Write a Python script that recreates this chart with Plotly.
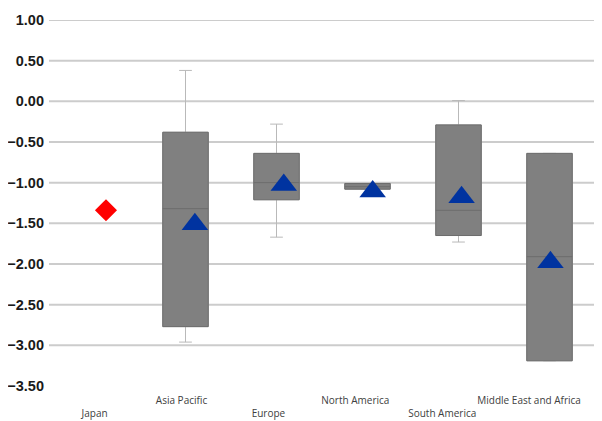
import plotly.graph_objects as go

# ---- data ----
categories = ["Japan", "Asia Pacific", "Europe", "North America", "South America", "Middle East and Africa"]
box_categories = ["Asia Pacific", "Europe", "North America", "South America", "Middle East and Africa"]
q1 = [-2.77, -1.21, -1.08, -1.65, -3.19]
median = [-1.32, -1.00, -1.05, -1.34, -1.91]
q3 = [-0.38, -0.64, -1.01, -0.29, -0.64]
lower_whisker = [-2.96, -1.67, -1.08, -1.73, -3.19]
upper_whisker = [0.38, -0.28, -1.01, 0.01, -0.64]
mean_categories = ["Asia Pacific", "Europe", "North America", "South America", "Middle East and Africa"]
mean_values = [-1.51, -1.03, -1.11, -1.18, -1.98]
japan_value = [-1.34]
y_tick_values = [1.0, 0.5, 0.0, -0.5, -1.0, -1.5, -2.0, -2.5, -3.0, -3.5]
grid_values = [1.0, 0.5, 0.0, -0.5, -1.0, -1.5, -2.0, -2.5, -3.0]

fig = go.Figure()

# whiskers layer (light grey)
fig.add_trace(go.Box(
    x=box_categories, q1=q1, median=median, q3=q3,
    lowerfence=lower_whisker, upperfence=upper_whisker,
    width=0.5, whiskerwidth=0.28,
    fillcolor="rgba(0,0,0,0)", line=dict(color="#b9b9b9", width=1),
    boxpoints=False, showlegend=False, hoverinfo="skip",
))
# box layer (dark grey)
fig.add_trace(go.Box(
    x=box_categories, q1=q1, median=median, q3=q3,
    lowerfence=q1, upperfence=q3,
    width=0.5, whiskerwidth=0,
    fillcolor="#808080", line=dict(color="#6c6c6c", width=1),
    boxpoints=False, showlegend=False,
))
# Japan diamond
fig.add_trace(go.Scatter(
    x=["Japan"], y=japan_value, xaxis="x2", mode="markers",
    marker=dict(symbol="diamond", size=17, color="#ff0000"), showlegend=False,
))
# means
fig.add_trace(go.Scatter(
    x=mean_categories, y=mean_values, xaxis="x2", mode="markers",
    marker=dict(symbol="triangle-up", size=23, color="#0033a0"), showlegend=False,
))
# invisible trace carrying the category labels axis
fig.add_trace(go.Scatter(
    x=categories, y=[None] * len(categories), xaxis="x3", mode="markers",
    showlegend=False, hoverinfo="skip",
))

# staggered labels
tick_text = [("<br>" + c) if i % 2 == 0 else c for i, c in enumerate(categories)]

shapes = [dict(type="line", xref="paper", x0=0, x1=1, yref="y", y0=v, y1=v,
               line=dict(color="#cccccc", width=2), layer="below") for v in grid_values]

# page body has an 8px margin: figure sized to fill the rest of the window
fig.update_layout(
    width=594, height=413,
    margin=dict(l=41, r=7, t=12, b=35),
    paper_bgcolor="white", plot_bgcolor="white",
    boxmode="overlay",
    shapes=shapes,
    xaxis=dict(type="category", categoryorder="array", categoryarray=categories,
               range=[-0.5, 5.5], showticklabels=False, automargin=False,
               showgrid=False, zeroline=False, showline=False, ticks=""),
    xaxis2=dict(type="category", categoryorder="array", categoryarray=categories,
                range=[-0.641, 5.501], overlaying="x", visible=False),
    xaxis3=dict(type="category", categoryorder="array", categoryarray=categories,
                range=[-0.525, 5.758], overlaying="x", anchor="y", side="bottom",
                tickvals=categories, ticktext=tick_text, automargin=False,
                tickangle=0, showgrid=False, zeroline=False, showline=False,
                ticks="outside", ticklen=5, tickcolor="rgba(0,0,0,0)",
                tickfont=dict(family="Open Sans", size=10, color="#404040")),
    yaxis=dict(range=[-3.5, 1.0], tickvals=y_tick_values, tickformat=".2f",
               showgrid=False, zeroline=False, showline=False, ticks="",
               automargin=False, ticklabelstandoff=4,
               tickfont=dict(family="Liberation Sans", size=14.5, color="#1a1a1a", weight="bold")),
)

fig.write_html("out.html")
